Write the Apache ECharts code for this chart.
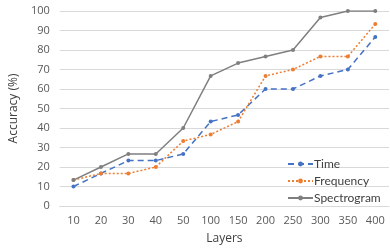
<!DOCTYPE html>
<html><head><meta charset="utf-8">
<script src="https://cdn.jsdelivr.net/npm/echarts@6/dist/echarts.min.js"></script>
<style>html,body{margin:0;padding:0;background:#fff}#c{width:390px;height:250px}</style>
</head><body><div id="c"></div>
<script>
var categories = ['10','20','30','40','50','100','150','200','250','300','350','400'];
var timeVals = [10, 16.7, 23.3, 23.3, 26.7, 43.3, 46.7, 60, 60, 66.7, 70, 86.7];
var freqVals = [13.3, 16.7, 16.7, 20, 33.3, 36.7, 43.3, 66.7, 70, 76.7, 76.7, 93.3];
var specVals = [13.3, 20, 26.7, 26.7, 40, 66.7, 73.3, 76.7, 80, 96.7, 100, 100];

var font = 'Open Sans, Noto Sans, sans-serif';
var chart = echarts.init(document.getElementById('c'), null, {renderer:'canvas'});
function s(name, data, color, type, sym){
  return {name:name, type:'line', data:data, symbol:'circle', symbolSize:sym,
    lineStyle:{color:color, width:1.5, type:type}, itemStyle:{color:color}, animation:false};
}
chart.setOption({
  animation:false,
  grid:{left:45, right:1, top:11, bottom:42},
  legend:{orient:'vertical', left:282, top:153, itemWidth:25, itemHeight:6, itemGap:5,
    textStyle:{fontFamily:'Lato, sans-serif', fontSize:12, color:'#404040', padding:[0,0,0,-4]},
    data:['Time','Frequency','Spectrogram']},
  xAxis:{type:'category', data:categories, boundaryGap:true,
    name:'Layers', nameLocation:'middle', nameGap:27,
    nameTextStyle:{fontFamily:font, fontSize:12, color:'#404040'},
    axisLine:{show:true, lineStyle:{color:'#d9d9d9'}}, axisTick:{show:false},
    axisLabel:{fontFamily:font, fontSize:11, color:'#595959', margin:9}},
  yAxis:{type:'value', min:0, max:100, interval:10,
    name:'Accuracy (%)', nameLocation:'middle', nameGap:32,
    nameTextStyle:{fontFamily:font, fontSize:12, color:'#404040'},
    axisLine:{show:false}, axisTick:{show:false},
    splitLine:{lineStyle:{color:'#d9d9d9', width:1}},
    axisLabel:{fontFamily:font, fontSize:11, color:'#595959', margin:10}},
  series:[
    s('Time', timeVals, '#4472C4', [6,4], 4),
    s('Frequency', freqVals, '#ED7D31', [2,2], 4),
    s('Spectrogram', specVals, '#7F7F7F', 'solid', 4)
  ]
});
</script></body></html>
